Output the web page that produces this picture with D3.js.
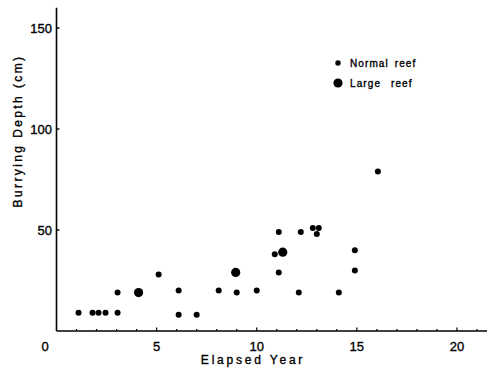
<!DOCTYPE html>
<html>
<head>
<meta charset="utf-8">
<script src="https://cdn.jsdelivr.net/npm/d3@7"></script>
<style>
	body { margin: 0; background: #fff; }
	svg text { font-family: 'Liberation Sans', 'DejaVu Sans', sans-serif; fill: #000; stroke: #000; stroke-width: 0.35px; }
</style>
</head>
<body>
<div id="draw"></div>
<script>
// data
const normalYear = [1.1, 1.8, 2.1, 2.45, 3.05, 3.05, 5.1, 6.1, 6.1, 7.0, 8.1, 9.0, 10.0,
	11.1, 12.2, 12.8, 13.1, 13.0, 10.9, 14.9, 11.1, 14.9, 12.1, 14.1, 16.05];
const normalDepth = [9, 9, 9, 9, 9, 19, 28, 20, 8, 8, 20, 19, 20,
	49, 49, 51, 51, 48, 38, 40, 29, 30, 19, 19, 79];
const largeYear = [4.1, 8.95, 11.3];
const largeDepth = [19, 29, 39];
const xTicks = [5, 10, 15, 20];
const yTicks = [50, 100, 150];
const legendItems = ['Normal reef', 'Large reef'];

var width = 487,
	height = 371;

var svg = d3
	.select('#draw')
	.append('svg')
	.attr('width', width)
	.attr('height', height);

var x = d3.scaleLinear().domain([0, 21.5]).range([56.5, 487]);
var y = d3.scaleLinear().domain([0, 160]).range([331, 7.8]);

// x axis line and ticks (ticks point inward)
svg
	.append('line')
	.attr('x1', x(0))
	.attr('x2', width)
	.attr('y1', y(0))
	.attr('y2', y(0))
	.attr('stroke', '#000')
	.attr('stroke-width', 1.6);

svg
	.selectAll('.xminor')
	.data(d3.range(1, 22))
	.enter()
	.append('line')
	.attr('x1', (d) => x(d))
	.attr('x2', (d) => x(d))
	.attr('y1', y(0))
	.attr('y2', (d) => (d % 5 === 0 ? y(0) - 3.5 : y(0) - 2))
	.attr('stroke', '#000')
	.attr('stroke-width', 1.2);

svg
	.selectAll('.xlab')
	.data(xTicks)
	.enter()
	.append('text')
	.attr('x', (d) => x(d))
	.attr('y', 351)
	.attr('text-anchor', 'middle')
	.style('font-size', '13px')
	.text((d) => d);

svg
	.append('text')
	.attr('x', 45)
	.attr('y', 351)
	.attr('text-anchor', 'middle')
	.style('font-size', '13px')
	.text('0');

// y axis
svg
	.append('line')
	.attr('x1', x(0))
	.attr('x2', x(0))
	.attr('y1', y(0))
	.attr('y2', y(160))
	.attr('stroke', '#000')
	.attr('stroke-width', 1.6);

svg
	.selectAll('.ytick')
	.data(yTicks)
	.enter()
	.append('line')
	.attr('x1', x(0))
	.attr('x2', x(0) + 3)
	.attr('y1', (d) => y(d))
	.attr('y2', (d) => y(d))
	.attr('stroke', '#000')
	.attr('stroke-width', 1.4);

svg
	.selectAll('.ylab')
	.data(yTicks)
	.enter()
	.append('text')
	.attr('x', 52)
	.attr('y', (d) => y(d) + 5)
	.attr('text-anchor', 'end')
	.style('font-size', '13px')
	.text((d) => d);

// axis titles
svg
	.append('text')
	.attr('x', 253)
	.attr('y', 364)
	.attr('text-anchor', 'middle')
	.style('font-size', '12px')
	.style('letter-spacing', '2.8px')
	.text('Elapsed Year');

svg
	.append('text')
	.attr('transform', 'translate(22,131) rotate(-90)')
	.attr('text-anchor', 'middle')
	.style('font-size', '12px')
	.style('letter-spacing', '2.4px')
	.text('Burrying Depth (cm)');

// points
svg
	.selectAll('.normal')
	.data(normalYear)
	.enter()
	.append('circle')
	.attr('cx', (d) => x(d))
	.attr('cy', (d, i) => y(normalDepth[i]))
	.attr('r', 3)
	.attr('fill', '#000');

svg
	.selectAll('.large')
	.data(largeYear)
	.enter()
	.append('circle')
	.attr('cx', (d) => x(d))
	.attr('cy', (d, i) => y(largeDepth[i]))
	.attr('r', 4.6)
	.attr('fill', '#000');

// legend
var legend = svg
	.selectAll('.legend')
	.data(legendItems)
	.enter()
	.append('g')
	.attr('transform', (d, i) => 'translate(338,' + (63 + i * 20) + ')');

legend
	.append('circle')
	.attr('r', (d, i) => (i === 0 ? 2.7 : 4.6))
	.attr('fill', '#000');

legend
	.append('text')
	.attr('x', 12)
	.attr('y', 4)
	.style('font-size', '10px')
	.style('letter-spacing', '1.1px')
	.style('word-spacing', (d, i) => (i === 0 ? '2px' : '6px'))
	.text((d) => d);
</script>
</body>
</html>
